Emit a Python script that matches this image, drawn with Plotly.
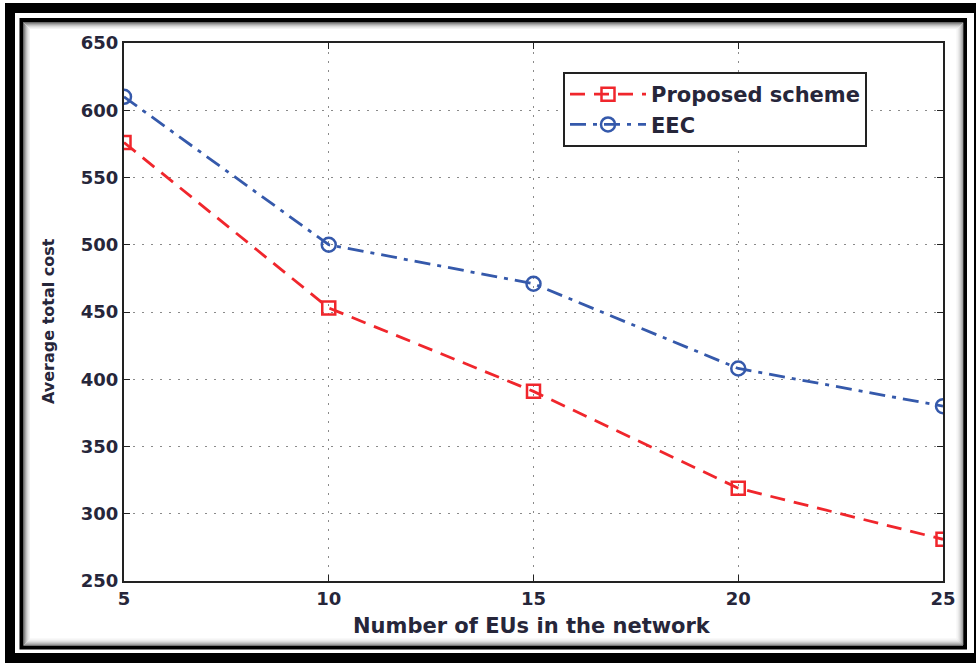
import plotly.graph_objects as go

# Network size (number of EUs) and average total cost per scheme
eus = [5, 10, 15, 20, 25]
proposed_cost = [576, 453, 391, 319, 281]
eec_cost = [610, 500, 471, 408, 380]

x_ticks = [5, 10, 15, 20, 25]
y_ticks = [250, 300, 350, 400, 450, 500, 550, 600, 650]

W, H = 976, 663
ML, MR, MT, MB = 124, 33, 43, 82
PW, PH = W - ML - MR, H - MT - MB


def px(x):
    return (x - ML) / PW


def py(y):
    return (H - MB - y) / PH


FONT = "DejaVu Sans"
TXT = "#26263a"
RED = "#f0262c"
BLUE = "#3559ab"

fig = go.Figure()
fig.add_trace(go.Scatter(
    x=eus, y=proposed_cost, name="Proposed scheme", mode="lines+markers",
    line=dict(color=RED, width=2.8, dash="15px,9px"),
    marker=dict(symbol="square-open", size=13, color=RED, line=dict(width=2.5, color=RED)),
))
fig.add_trace(go.Scatter(
    x=eus, y=eec_cost, name="EEC", mode="lines+markers",
    line=dict(color=BLUE, width=2.8, dash="16px,7px,4px,7px"),
    marker=dict(symbol="circle-open", size=14, color=BLUE, line=dict(width=2.5, color=BLUE)),
))

axis_common = dict(
    showline=True, linecolor="#222222", linewidth=2, mirror="allticks",
    ticks="inside", ticklen=6, tickwidth=1, tickcolor="#222222",
    showgrid=True, gridcolor="#8a8a8a", gridwidth=1.2, griddash="2px,7px",
    zeroline=False, automargin=False,
    tickfont=dict(family=FONT, size=18, color=TXT, weight="bold"),
)
fig.update_xaxes(range=[5, 25], tickvals=x_ticks, **axis_common)
fig.update_yaxes(range=[250, 650], tickvals=y_ticks, **axis_common)

# Axis titles
fig.add_annotation(text="Number of EUs in the network", xref="paper", yref="paper",
                   x=px(532), y=py(626), xanchor="center", yanchor="middle", showarrow=False,
                   font=dict(family=FONT, size=21, color=TXT, weight="bold"))
fig.add_annotation(text="Average total cost", xref="paper", yref="paper",
                   x=px(48), y=py(321), xanchor="center", yanchor="middle",
                   showarrow=False, textangle=-90,
                   font=dict(family=FONT, size=16, color=TXT, weight="bold"))

# Picture frame: thick outer border, thin inner border, inner shadow
shapes = []
shapes.append(dict(type="rect", xref="paper", yref="paper",
                   x0=px(10), x1=px(979), y0=py(8), y1=py(658),
                   line=dict(color="black", width=10)))
shapes.append(dict(type="rect", xref="paper", yref="paper",
                   x0=px(21.5), x1=px(965), y0=py(20), y1=py(647.5),
                   line=dict(color="black", width=4)))
shade = ["#6a6a6a", "#8c8c8c", "#aaaaaa", "#c4c4c4", "#d9d9d9", "#e8e8e8", "#f3f3f3"]
for i, c in enumerate(shade):
    d = 23.5 + i
    shapes.append(dict(type="rect", xref="paper", yref="paper",
                       x0=px(d), x1=px(963 - i), y0=py(22.5 + i), y1=py(645 - i),
                       line=dict(color=c, width=1)))
fig.update_layout(shapes=shapes)

fig.update_layout(
    width=W, height=H,
    margin=dict(l=ML, r=MR, t=MT, b=MB, autoexpand=False),
    paper_bgcolor="white", plot_bgcolor="white",
    showlegend=True,
    legend=dict(
        x=px(563), y=py(72), xanchor="left", yanchor="top",
        bgcolor="white", bordercolor="#222222", borderwidth=2,
        font=dict(family=FONT, size=21, color=TXT, weight="bold"),
        itemwidth=76, tracegroupgap=0,
    ),
)

fig.write_html("out.html")
